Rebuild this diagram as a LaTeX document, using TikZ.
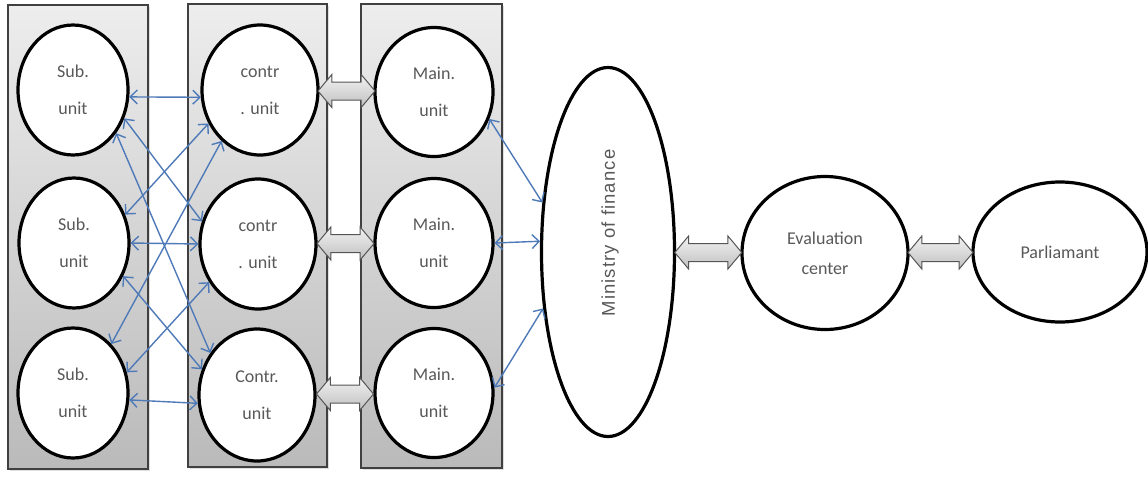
\documentclass[tikz,border=0pt]{standalone}
\usepackage{fontspec}
\setmainfont{Carlito}
\newfontfamily\arialf[LetterSpace=6]{Liberation Sans}
\usetikzlibrary{arrows.meta,shapes.geometric,shapes.arrows,calc,shadows}
\definecolor{txtgray}{HTML}{595959}
\definecolor{linkblue}{HTML}{4F7AB8}
\definecolor{arrowedge}{HTML}{555555}
\begin{document}
\begin{tikzpicture}[x=1pt,y=-1pt,
  panel/.style={draw=black!75, line width=1.1pt, top color=black!7, bottom color=black!27,
    drop shadow={opacity=0.25, shadow xshift=1.5pt, shadow yshift=-1.5pt}},
  unit/.style={ellipse, draw=black, line width=3.2pt, fill=white, inner sep=0pt,
    font=\fontsize{18}{37}\selectfont, text=txtgray, align=center},
  link/.style={linkblue, line width=1.4pt,
    {Straight Barb[length=7pt,width=14pt]}-{Straight Barb[length=7pt,width=14pt]}},
  blockarrow/.style={double arrow, draw=arrowedge, line width=1pt, top color=black!5,
    bottom color=black!25, inner xsep=0pt, inner ysep=8.5pt, double arrow head extend=7.5pt,
    double arrow tip angle=100},
]
\useasboundingbox (0,0) rectangle (1148,477);

% panels
\path[panel] (8,5) rectangle (148,469);
\path[panel] (188,4) rectangle (327,467);
\path[panel] (361,4) rectangle (502,468);

% sub units
\node[unit, minimum width=110pt, minimum height=130pt] (s1) at (73,90) {Sub.\\unit};
\node[unit, minimum width=110pt, minimum height=130pt] (s2) at (74,243) {Sub.\\unit};
\node[unit, minimum width=110pt, minimum height=130pt] (s3) at (73,393) {Sub.\\unit};

% contr units
\node[unit, minimum width=116pt, minimum height=130pt] (c1) at (260,90) {contr\\. unit};
\node[unit, minimum width=116pt, minimum height=130pt] (c2) at (258,244) {contr\\. unit};
\node[unit, minimum width=116pt, minimum height=132pt] (c3) at (257,395) {Contr.\\unit};

% main units
\node[unit, minimum width=118pt, minimum height=129pt] (m1) at (434,92) {Main.\\unit};
\node[unit, minimum width=118pt, minimum height=129pt] (m2) at (434,243) {Main.\\unit};
\node[unit, minimum width=118pt, minimum height=129pt] (m3) at (434,393) {Main.\\unit};

% ministry
\node[ellipse, draw=black, line width=3.2pt, fill=white, minimum width=133pt,
  minimum height=369pt, inner sep=0pt] (mof) at (608,252) {};
\node[rotate=90, font=\arialf\fontsize{18.5}{20}\selectfont, text=txtgray] (moft) at (610,233) {Ministry of finance};

% evaluation, parliament
\node[unit, minimum width=166pt, minimum height=153pt, font=\fontsize{18}{30}\selectfont] (ev) at (825,253) {Evaluation\\center};
\node[unit, minimum width=174pt, minimum height=140pt] (pa) at (1060,252) {Parliamant};

% thin links sub <-> contr
\draw[link] (s1.-7) -- (c1.187);
\draw[link] (s1.-29) -- (c2.158);
\draw[link] (s1.-45) -- (c3.138);
\draw[link] (s2.29) -- (c1.213);
\draw[link] (s2.0) -- (c2.180);
\draw[link] (s2.-34) -- (c3.155);
\draw[link] (s3.52) -- (c1.233);
\draw[link] (s3.21) -- (c2.218);
\draw[link] (s3.-7) -- (c3.188);

% main <-> ministry
\draw[link] (m1.-26) -- (mof.143);
\draw[link] (m2.0) -- (mof.171);
\draw[link] (m3.5) -- (mof.221);

% block arrows
\node[blockarrow, minimum height=57pt] (b1) at ($(c1.east)!0.5!(m1.west)$) {};
\node[blockarrow, minimum height=57pt] (b2) at ($(c2.east)!0.5!(m2.west)$) {};
\node[blockarrow, minimum height=57pt] (b3) at ($(c3.east)!0.5!(m3.west)$) {};
\node[blockarrow, minimum height=67pt] (b4) at ($(mof.east)!0.5!(ev.west)$) {};
\node[blockarrow, minimum height=65pt] (b5) at ($(ev.east)!0.5!(pa.west)$) {};
\end{tikzpicture}
\end{document}
